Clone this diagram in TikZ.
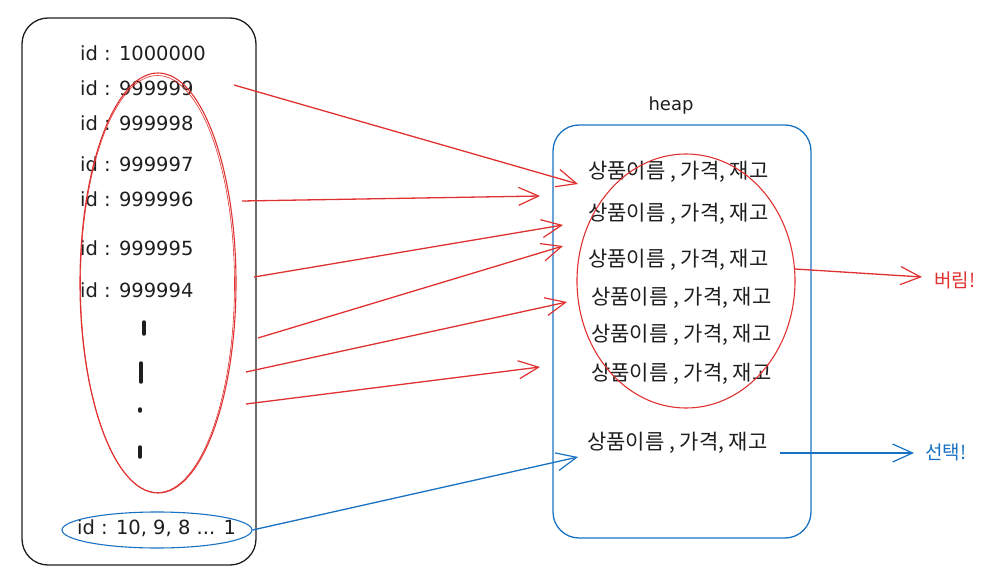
\documentclass[tikz,border=0pt]{standalone}
\usepackage{fontspec}
\newfontfamily\kr{Noto Sans CJK KR}
\newfontfamily\dv{DejaVu Sans}
\usetikzlibrary{arrows.meta,shapes.geometric}
\definecolor{xred}{HTML}{E03131}
\definecolor{xblue}{HTML}{1971C2}
\definecolor{xink}{HTML}{1E1E1E}
\tikzset{
  idlabel/.style={anchor=west,inner sep=0pt,font=\dv\fontsize{19.5}{23}\selectfont,text=xink},
  row/.style={anchor=west,inner sep=0pt,font=\kr\fontsize{21}{25}\selectfont,text=xink},
  panel/.style={draw,rounded corners=26pt,line width=1.3pt,inner sep=0pt},
  ring/.style={ellipse,draw,inner sep=0pt,line width=1.1pt},
  barb/.style={-{Straight Barb[length=20pt,width=18pt,line width=1.2pt]}},
  redarrow/.style={barb,draw=xred,line width=1.3pt},
  bluearrow/.style={barb,draw=xblue,line width=1.3pt},
  dashmark/.style={draw=xink,line width=3.5pt,line cap=round},
}
\begin{document}
\begin{tikzpicture}[x=1pt,y=-1pt]
\useasboundingbox (0,0) rectangle (1005,578);

% panels
\node[panel,draw=xink,minimum width=234pt,minimum height=547pt] (stack) at (139,291.5) {};
\node[panel,draw=xblue,minimum width=258pt,minimum height=413pt] (heap) at (682,331.5) {};
\node[font=\dv\fontsize{18}{21}\selectfont,text=xink] (heaplabel) at (671,106) {heap};

% id labels
\node[idlabel] (id0) at (80,53) {id : 1000000};
\node[idlabel] (id1) at (80,88) {id : 999999};
\node[idlabel] (id2) at (80,123) {id : 999998};
\node[idlabel] (id3) at (80,164) {id : 999997};
\node[idlabel] (id4) at (80,199) {id : 999996};
\node[idlabel] (id5) at (80,248) {id : 999995};
\node[idlabel] (id6) at (80,290) {id : 999994};
\node[idlabel] (idlow) at (77,528) {id : 10, 9, 8 ... 1};

% vertical dashes
\draw[dashmark] (144,322) -- (144,334);
\draw[dashmark] (141,363) -- (141,382);
\draw[dashmark] (140,409) -- (140,411);
\draw[dashmark] (140,447) -- (140,457);

% rings
\node[ring,draw=xred,minimum width=156pt,minimum height=420pt] (oldids) at (158,283) {};
\draw[xred,line width=0.6pt] (157.5,284) ellipse [x radius=77pt, y radius=208.5pt];
\node[ring,draw=xblue,minimum width=190pt,minimum height=36pt] (newids) at (157,530) {};

% heap rows
\node[row] (r1) at (588,172) {상품이름 , 가격, 재고};
\node[row] (r2) at (588,214) {상품이름 , 가격, 재고};
\node[row] (r3) at (588,260) {상품이름 , 가격, 재고};
\node[row] (r4) at (591,298) {상품이름 , 가격, 재고};
\node[row] (r5) at (591,335) {상품이름 , 가격, 재고};
\node[row] (r6) at (591,374) {상품이름 , 가격, 재고};
\node[row] (r7) at (587,443) {상품이름 , 가격, 재고};

\node[ring,draw=xred,minimum width=218pt,minimum height=254pt] (dropped) at (686,281) {};

% outcome labels
\node[anchor=west,inner sep=0pt,font=\kr\fontsize{19}{22}\selectfont,text=xred] (drop) at (934,280) {버림!};
\node[anchor=west,inner sep=0pt,font=\kr\fontsize{19}{22}\selectfont,text=xblue] (pick) at (925,452) {선택!};

% arrow end points
\coordinate (s1) at (234,85);   \coordinate (e1) at (578,184);
\coordinate (s2) at (242,201);  \coordinate (e2) at (540,196);
\coordinate (s3) at (254,277);  \coordinate (e3) at (563,225);
\coordinate (s4) at (258,338);  \coordinate (e4) at (563,246);
\coordinate (s5) at (246,372);  \coordinate (e5) at (567,302);
\coordinate (s6) at (246,404);  \coordinate (e6) at (540,367);
\coordinate (e7) at (578,457);
\coordinate (s8) at (795,269);  \coordinate (e8) at (922,277);
\coordinate (s9) at (780,453);  \coordinate (e9) at (914,453);

% red arrows
\draw[redarrow] (s1) -- (e1);
\draw[redarrow] (s2) -- (e2);
\draw[redarrow] (s3) -- (e3);
\draw[redarrow] (s4) -- (e4);
\draw[redarrow] (s5) -- (e5);
\draw[redarrow] (s6) -- (e6);
\draw[redarrow] (s8) -- (e8);
% blue arrows
\draw[bluearrow] (newids.east) -- (e7);
\draw[bluearrow] (s9) -- (e9);
\end{tikzpicture}
\end{document}
